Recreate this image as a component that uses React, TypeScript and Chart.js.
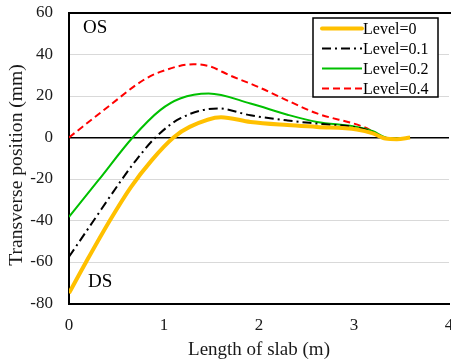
import React, { useEffect, useRef } from "react";
import { Chart, registerables } from "chart.js";

Chart.register(...registerables);

// ---- Data ----
const seriesLabels = ["Level=0", "Level=0.1", "Level=0.2", "Level=0.4"];

const xLevel0 = [0, 0.18, 0.43, 0.65, 0.87, 1.1, 1.27, 1.6, 1.91, 2.3, 2.61, 3.03, 3.2, 3.33, 3.45, 3.59];
const yLevel0 = [-75, -60, -40, -24, -11, 0, 5.1, 9.8, 7.5, 6, 5.1, 3.9, 2, -0.5, -0.8, 0];

const xLevel01 = [0, 0.26, 0.56, 0.705, 0.91, 1.17, 1.57, 1.91, 2.3, 2.61, 3.03, 3.2, 3.33, 3.45, 3.59];
const yLevel01 = [-57.5, -40, -20, -11, 0, 9.2, 14, 10.7, 8.2, 6.7, 4.8, 2.5, -0.5, -0.8, 0];

const xLevel02 = [0, 0.31, 0.67, 0.96, 1.17, 1.47, 1.91, 2.3, 2.61, 3.03, 3.2, 3.33, 3.45, 3.59];
const yLevel02 = [-38.3, -20.6, 0, 13.2, 18.8, 21.2, 16.4, 11, 7.5, 5.1, 3, 0, -0.5, 0];

const xLevel04 = [0, 0.43, 0.78, 0.96, 1.31, 1.48, 1.69, 2.0, 2.3, 2.61, 3.1, 3.31, 3.41, 3.59];
const yLevel04 = [0, 15.5, 27.6, 31.6, 35.3, 34.3, 30, 24.2, 17.8, 11.6, 5.1, 0.3, -1, 0];

const xTitle = "Length of slab (m)";
const yTitle = "Transverse position (mm)";
const topNote = "OS";
const bottomNote = "DS";

const SERIF = "'Liberation Serif', 'Times New Roman', serif";

function pts(xs: number[], ys: number[]) {
  return xs.map((x, i) => ({ x, y: ys[i] }));
}

const legendPlugin = {
  id: "boxLegend",
  afterDraw(chart: any) {
    const ctx = chart.ctx;
    const { left, top, bottom } = chart.chartArea;
    ctx.save();
    // top frame line
    ctx.strokeStyle = "#000";
    ctx.lineWidth = 2;
    ctx.beginPath();
    ctx.moveTo(left - 1, top);
    ctx.lineTo(chart.width, top);
    ctx.stroke();

    // y axis title
    ctx.save();
    ctx.translate(17, 165);
    ctx.rotate(-Math.PI / 2);
    ctx.fillStyle = "#1a1a1a";
    ctx.font = `19.6px ${SERIF}`;
    ctx.textAlign = "center";
    ctx.textBaseline = "middle";
    ctx.fillText(yTitle, 0, 0);
    ctx.restore();

    // notes
    ctx.fillStyle = "#000";
    ctx.font = `19px ${SERIF}`;
    ctx.textAlign = "left";
    ctx.textBaseline = "middle";
    ctx.fillText(topNote, left + 14, top + 15);
    ctx.fillText(bottomNote, left + 19, bottom - 21);

    // legend box
    const bx = 313, by = 18, bw = 125, bh = 79;
    ctx.fillStyle = "#fff";
    ctx.fillRect(bx, by, bw, bh);
    ctx.strokeStyle = "#000";
    ctx.lineWidth = 1.5;
    ctx.strokeRect(bx, by, bw, bh);
    ctx.font = `16px ${SERIF}`;
    chart.data.datasets.forEach((ds: any, i: number) => {
      const y = by + 10.5 + i * 20;
      ctx.save();
      ctx.strokeStyle = ds.borderColor;
      ctx.lineWidth = ds.borderWidth;
      ctx.lineCap = ds.borderWidth > 3 ? "round" : "butt";
      ctx.setLineDash(ds.borderDash || []);
      ctx.beginPath();
      ctx.moveTo(bx + 9, y);
      ctx.lineTo(bx + 49, y);
      ctx.stroke();
      ctx.restore();
      ctx.fillStyle = "#000";
      ctx.textBaseline = "middle";
      ctx.fillText(ds.label, bx + 50, y + 1);
    });
    ctx.restore();
  },
};

export default function App() {
  const ref = useRef<HTMLCanvasElement | null>(null);

  useEffect(() => {
    if (!ref.current) return;
    const chart = new Chart(ref.current, {
      type: "scatter",
      data: {
        datasets: [
          {
            label: seriesLabels[0],
            data: pts(xLevel0, yLevel0),
            borderColor: "#FFC000",
            borderWidth: 4,
            showLine: true,
            pointRadius: 0,
            cubicInterpolationMode: "monotone",
          },
          {
            label: seriesLabels[1],
            data: pts(xLevel01, yLevel01),
            borderColor: "#000000",
            borderWidth: 2,
            borderDash: [9, 4, 2, 4],
            showLine: true,
            pointRadius: 0,
            cubicInterpolationMode: "monotone",
          },
          {
            label: seriesLabels[2],
            data: pts(xLevel02, yLevel02),
            borderColor: "#00C000",
            borderWidth: 2,
            showLine: true,
            pointRadius: 0,
            cubicInterpolationMode: "monotone",
          },
          {
            label: seriesLabels[3],
            data: pts(xLevel04, yLevel04),
            borderColor: "#FF0000",
            borderWidth: 2,
            borderDash: [7, 4],
            showLine: true,
            pointRadius: 0,
            cubicInterpolationMode: "monotone",
          },
        ] as any,
      },
      options: {
        animation: false,
        responsive: false,
        layout: { padding: { top: 13, right: 21, left: 0, bottom: 0 } },
        plugins: { legend: { display: false }, tooltip: { enabled: false } },
        scales: {
          x: {
            type: "linear",
            min: 0,
            max: 4,
            afterFit: (s: any) => {
              s.height = 57.5;
              s.paddingLeft = 5;
              s.paddingRight = 5;
            },
            ticks: {
              stepSize: 1,
              padding: 12,
              color: "#1a1a1a",
              font: { family: SERIF, size: 17 },
            },
            grid: { display: false, drawTicks: false },
            border: { display: true, color: "#000", width: 2 },
            title: {
              display: true,
              text: xTitle,
              color: "#1a1a1a",
              font: { family: SERIF, size: 19 },
              padding: { top: 0, bottom: 0 },
            },
          },
          y: {
            min: -80,
            max: 60,
            afterFit: (s: any) => {
              s.width = 69;
              s.paddingTop = 10;
              s.paddingBottom = 10;
            },
            ticks: {
              stepSize: 20,
              padding: 16,
              color: "#1a1a1a",
              font: { family: SERIF, size: 17 },
            },
            grid: {
              drawTicks: false,
              color: (c: any) => (c.tick && c.tick.value === 0 ? "#000" : "#d9d9d9"),
              lineWidth: (c: any) => (c.tick && c.tick.value === 0 ? 1.5 : 1),
            },
            border: { display: true, color: "#000", width: 2 },
            title: { display: false },
          },
        },
      } as any,
      plugins: [legendPlugin],
    });
    return () => chart.destroy();
  }, []);

  return (
    <div
      style={{
        position: "fixed",
        left: 0,
        top: 0,
        width: 451,
        height: 361,
        overflow: "hidden",
        background: "#fff",
      }}
    >
      <canvas ref={ref} width={470} height={361} style={{ display: "block" }} />
    </div>
  );
}
